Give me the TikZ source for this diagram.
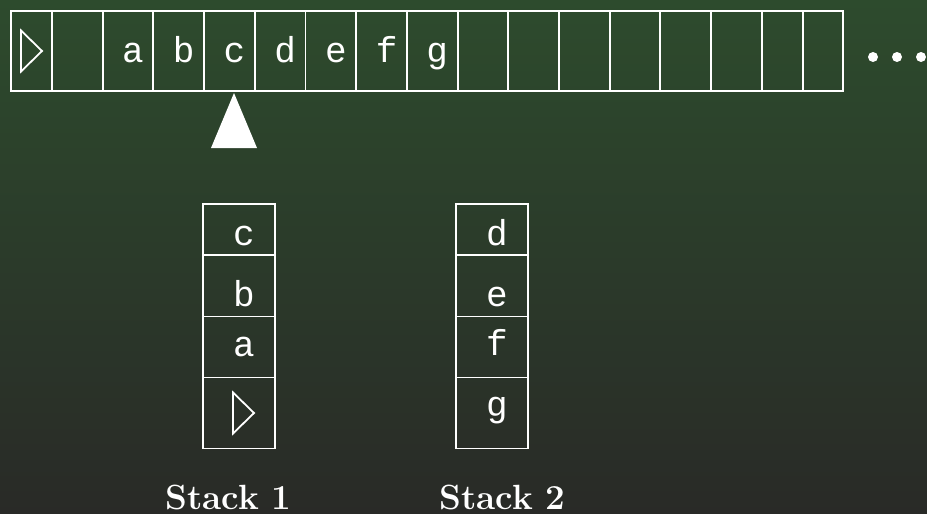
\documentclass[tikz,border=0pt]{standalone}
\usepackage{fontspec}
\usetikzlibrary{positioning}
\newfontfamily\tapefont{Liberation Mono}
\definecolor{boardtop}{HTML}{2D4B2D}
\definecolor{boardbot}{HTML}{292A27}
\tikzset{
  cell/.style={draw=white, line width=1.9pt, inner sep=0pt, outer sep=0pt},
  sym/.style={font=\tapefont\fontsize{36}{36}\selectfont, text=white,
              anchor=base, inner sep=0pt},
  marker/.style={draw=white, line width=1.8pt, line join=miter},
  stacklabel/.style={font=\fontsize{35}{35}\selectfont\bfseries, text=white,
                     anchor=base, inner sep=0pt}
}
\newcommand{\leftend}[1]{%
  \draw[marker] (#1) ++(-10.5,-20.5) -- ++(21,20.5) -- ++(-21,20.5) -- cycle;}

\begin{document}
\begin{tikzpicture}[x=1pt, y=-1pt]
  \useasboundingbox (0,0) rectangle (927,514);
  \shade[top color=boardtop, bottom color=boardbot] (0,0) rectangle (927,514);

  % tape
  \node[cell, minimum width=41pt, minimum height=80pt, anchor=north west]
    (t0) at (11,11) {};
  \foreach \i [remember=\i as \j (initially 0)] in {1,...,14}
    \node[cell, minimum width=50.7pt, minimum height=80pt, right=0pt of t\j] (t\i) {};
  \node[cell, minimum width=41pt, minimum height=80pt, right=0pt of t14] (t15) {};
  \node[cell, minimum width=40.5pt, minimum height=80pt, right=0pt of t15] (t16) {};
  \leftend{t0.center}
  \foreach \c [count=\i from 2] in {a,b,c,d,e,f,g}
    \node[sym, xshift=5pt, yshift=-11pt] (sym\i) at (t\i.center) {\c};

  % more tape
  \foreach \k/\x in {1/873,2/897,3/921}
    \node[circle, fill=white, inner sep=0pt, minimum size=10pt] (dot\k) at (\x,57) {};

  % head
  \coordinate (head) at (234,93);
  \fill[white] (head) -- ++(-23,55) -- ++(46,0) -- cycle;

  % stacks
  \foreach \s/\x in {1/203,2/456} {
    \node[cell, minimum width=72pt, minimum height=51pt, anchor=north west]
      (s\s r1) at (\x,204) {};
    \node[cell, minimum width=72pt, minimum height=61.5pt, below=0pt of s\s r1] (s\s r2) {};
    \node[cell, minimum width=72pt, minimum height=61pt, below=0pt of s\s r2] (s\s r3) {};
    \node[cell, minimum width=72pt, minimum height=71pt, below=0pt of s\s r3] (s\s r4) {};
  }
  \node[sym, xshift=5pt, yshift=-15.5pt] (k1c) at (s1r1.center) {c};
  \node[sym, xshift=5pt, yshift=-20.5pt] (k1b) at (s1r2.center) {b};
  \node[sym, xshift=5pt, yshift=-9.5pt]  (k1a) at (s1r3.center) {a};
  \leftend{[xshift=4.5pt]s1r4.center}
  \node[sym, xshift=5pt, yshift=-15.5pt] (k2d) at (s2r1.center) {d};
  \node[sym, xshift=5pt, yshift=-20.5pt] (k2e) at (s2r2.center) {e};
  \node[sym, xshift=5pt, yshift=-8pt]    (k2f) at (s2r3.center) {f};
  \node[sym, xshift=5pt, yshift=-3pt]    (k2g) at (s2r4.center) {g};

  \node[stacklabel] (lab1) at (228.5,509) {Stack 1};
  \node[stacklabel] (lab2) at (502.5,509) {Stack 2};
\end{tikzpicture}
\end{document}
